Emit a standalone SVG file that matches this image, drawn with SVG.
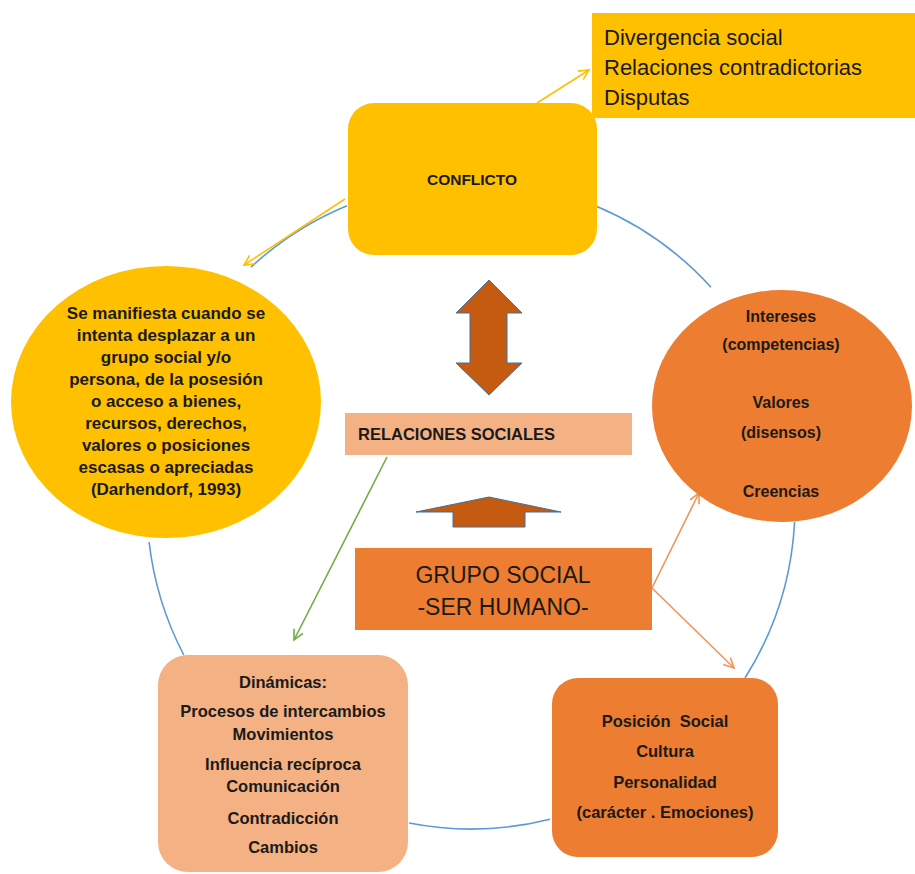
<svg xmlns="http://www.w3.org/2000/svg" width="915" height="874" viewBox="0 0 915 874">
<style>
text{font-family:"Liberation Sans",Arial,sans-serif;fill:#1a1a1a}
.b{font-weight:bold}
.c{text-anchor:middle}
.arc{fill:none;stroke:#5B9BD5;stroke-width:1.6}
.ya{fill:none;stroke:#FFC000;stroke-width:1.6}
.oa{fill:none;stroke:#F0955A;stroke-width:1.6}
.ga{fill:none;stroke:#70AD47;stroke-width:1.6}
.blk{fill:#C55A11;stroke:#41719C;stroke-width:1}
</style>
<defs>
<marker id="my" markerUnits="userSpaceOnUse" markerWidth="14" markerHeight="14" refX="11" refY="6" orient="auto"><path d="M1,1 L11,6 L1,11" fill="none" stroke="#FFC000" stroke-width="1.6"/></marker>
<marker id="mo" markerUnits="userSpaceOnUse" markerWidth="14" markerHeight="14" refX="11" refY="6" orient="auto"><path d="M1,1 L11,6 L1,11" fill="none" stroke="#F0955A" stroke-width="1.6"/></marker>
<marker id="mg" markerUnits="userSpaceOnUse" markerWidth="14" markerHeight="14" refX="11" refY="6" orient="auto"><path d="M1,1 L11,6 L1,11" fill="none" stroke="#70AD47" stroke-width="1.6"/></marker>
</defs>
<rect width="915" height="874" fill="#fff"/>
<g id="connectors">
<path class="arc" d="M597,206.5 A324,324 0 0 1 711,287.3"/>
<path class="arc" d="M794.6,522 A324,324 0 0 1 745,678"/>
<path class="arc" d="M550,819.2 A324,324 0 0 1 409,823"/>
<path class="arc" d="M183.8,655 A324,324 0 0 1 149.1,542"/>
<path class="arc" d="M251,267.1 A324,324 0 0 1 347,205.7"/>
<line class="ya" x1="537" y1="103" x2="589" y2="70" marker-end="url(#my)"/>
<line class="ya" x1="345" y1="199" x2="244" y2="265" marker-end="url(#my)"/>
<line class="ga" x1="387" y1="457" x2="294" y2="640" marker-end="url(#mg)"/>
<line class="oa" x1="652" y1="588" x2="699" y2="493" marker-end="url(#mo)"/>
<line class="oa" x1="652" y1="588" x2="734" y2="668" marker-end="url(#mo)"/>
</g>
<g id="arrow-double">
<polygon class="blk" points="489,280 522,313 507,313 507,363 522,363 489,395 456,363 470,363 470,313 456,313"/>
</g>
<g id="arrow-up">
<polygon class="blk" points="416,512 489,497 561,512 525,512 525,527 453,527 453,512"/>
</g>
<g id="divergencia">
<rect x="592" y="13" width="323" height="105" fill="#FFC000"/>
<text x="604" y="45" font-size="22">Divergencia social</text>
<text x="604" y="75" font-size="22">Relaciones contradictorias</text>
<text x="604" y="105" font-size="22">Disputas</text>
</g>
<g id="conflicto">
<rect x="348" y="103" width="249" height="152" rx="26" fill="#FFC000"/>
<text class="b c" x="472" y="185" font-size="15.5">CONFLICTO</text>
</g>
<g id="definicion">
<ellipse cx="166" cy="402" rx="155" ry="136" fill="#FFC000"/>
<g class="b c" font-size="17">
<text x="166" y="319">Se manifiesta cuando se</text>
<text x="166" y="341">intenta desplazar a un</text>
<text x="166" y="363">grupo social y/o</text>
<text x="166" y="385">persona, de la posesión</text>
<text x="166" y="407">o acceso a bienes,</text>
<text x="166" y="429">recursos, derechos,</text>
<text x="166" y="451">valores o posiciones</text>
<text x="166" y="473">escasas o apreciadas</text>
<text x="166" y="495">(Darhendorf, 1993)</text>
</g>
</g>
<g id="intereses">
<ellipse cx="782" cy="406" rx="130" ry="116" fill="#ED7D31"/>
<g class="b c" font-size="16">
<text x="781" y="322">Intereses</text>
<text x="781" y="350">(competencias)</text>
<text x="781" y="408">Valores</text>
<text x="781" y="438">(disensos)</text>
<text x="781" y="497">Creencias</text>
</g>
</g>
<g id="relaciones">
<rect x="345" y="413" width="287" height="42" fill="#F4B183"/>
<text class="b" x="358" y="440" font-size="16.5">RELACIONES SOCIALES</text>
</g>
<g id="grupo">
<rect x="355" y="548" width="297" height="82" fill="#ED7D31"/>
<text class="c" x="503" y="583" font-size="23">GRUPO SOCIAL</text>
<text class="c" x="503" y="615" font-size="23">-SER HUMANO-</text>
</g>
<g id="dinamicas">
<rect x="158" y="655" width="250" height="217" rx="30" fill="#F4B183"/>
<g class="b c" font-size="16.5">
<text x="283" y="688">Dinámicas:</text>
<text x="283" y="717">Procesos de intercambios</text>
<text x="283" y="740">Movimientos</text>
<text x="283" y="770">Influencia recíproca</text>
<text x="283" y="792">Comunicación</text>
<text x="283" y="824">Contradicción</text>
<text x="283" y="853">Cambios</text>
</g>
</g>
<g id="posicion">
<rect x="552" y="678" width="226" height="179" rx="26" fill="#ED7D31"/>
<g class="b c" font-size="16.5">
<text x="665" y="727" xml:space="preserve">Posición  Social</text>
<text x="665" y="757">Cultura</text>
<text x="665" y="788">Personalidad</text>
<text x="665" y="818">(carácter . Emociones)</text>
</g>
</g>
</svg>
